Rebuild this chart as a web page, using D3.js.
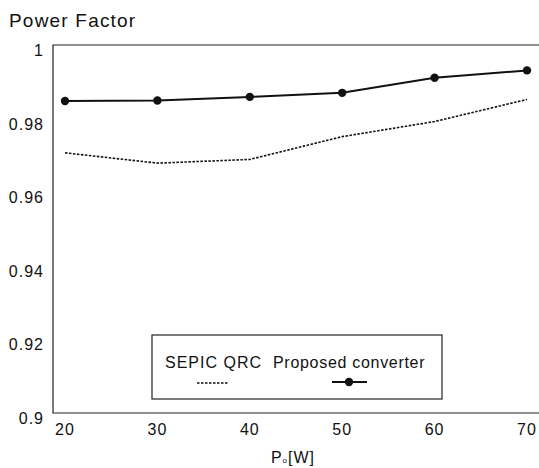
<!DOCTYPE html>
<html>
<head>
<meta charset="utf-8">
<script src="https://cdn.jsdelivr.net/npm/d3@7"></script>
<style>
  body { margin: 0; background: #fff; }
  text { font-family: "Liberation Sans", Arial, sans-serif; fill: #111; }
</style>
</head>
<body>
<div id="chart"></div>
<script>
// Data
const powerLevels = [20, 30, 40, 50, 60, 70];
const sepicQrc = [0.9707, 0.9679, 0.9689, 0.9751, 0.9792, 0.9852];
const proposed = [0.9848, 0.9849, 0.9859, 0.9870, 0.9911, 0.9931];
const yTicks = [0.9, 0.92, 0.94, 0.96, 0.98, 1];
const xTicks = [20, 30, 40, 50, 60, 70];

const width = 539, height = 468;
const margin = { top: 45, right: 0, bottom: 55, left: 53 };

const svg = d3.select("#chart").append("svg")
    .attr("width", width)
    .attr("height", height);

const x = d3.scaleLinear()
    .domain([20, 70])
    .range([65, 527]);

const y = d3.scaleLinear()
    .domain([0.9, 1])
    .range([height - margin.bottom, margin.top]);

// title
svg.append("text")
    .attr("x", 9)
    .attr("y", 27)
    .style("font-size", "19px")
    .style("letter-spacing", "1.2px")
    .text("Power Factor");

// frame: left, top and bottom lines (no right edge)
svg.append("path")
    .attr("d", `M${width},${margin.top}H${margin.left}V${height - margin.bottom}H${width}`)
    .attr("fill", "none")
    .attr("stroke", "#222")
    .attr("stroke-width", 1.2);

// y tick labels
svg.append("g")
    .selectAll("text")
    .data(yTicks)
    .enter().append("text")
    .attr("x", 44)
    .attr("y", d => y(d) + 11)
    .attr("text-anchor", "end")
    .style("font-size", "16px")
    .style("letter-spacing", "1px")
    .text(d => d3.format("~g")(d));

// x tick labels
svg.append("g")
    .selectAll("text")
    .data(xTicks)
    .enter().append("text")
    .attr("x", d => x(d))
    .attr("y", height - margin.bottom + 22)
    .attr("text-anchor", "middle")
    .style("font-size", "16px")
    .style("letter-spacing", "1px")
    .text(d => d);

// x axis title Po[W]
const xTitle = svg.append("text")
    .attr("x", 293)
    .attr("y", 463)
    .attr("text-anchor", "middle")
    .style("font-size", "16px")
    .style("letter-spacing", "1px");
xTitle.append("tspan").text("P");
xTitle.append("tspan").style("font-size", "8px").text("o");
xTitle.append("tspan").text("[W]");

const line = d3.line()
    .x((d, i) => x(powerLevels[i]))
    .y(d => y(d));

// SEPIC QRC dotted line
svg.append("path")
    .datum(sepicQrc)
    .attr("d", line)
    .attr("fill", "none")
    .attr("stroke", "#111")
    .attr("stroke-width", 1.6)
    .attr("stroke-dasharray", "2.5,1.5");

// Proposed converter
svg.append("path")
    .datum(proposed)
    .attr("d", line)
    .attr("fill", "none")
    .attr("stroke", "#111")
    .attr("stroke-width", 2);

svg.selectAll("circle.prop")
    .data(proposed)
    .enter().append("circle")
    .attr("class", "prop")
    .attr("cx", (d, i) => x(powerLevels[i]))
    .attr("cy", d => y(d))
    .attr("r", 4.2)
    .attr("fill", "#111");

// legend
const legend = svg.append("g");
legend.append("rect")
    .attr("x", 152)
    .attr("y", 335)
    .attr("width", 290)
    .attr("height", 64)
    .attr("fill", "#fff")
    .attr("stroke", "#222")
    .attr("stroke-width", 1.2);

legend.append("text")
    .attr("x", 165)
    .attr("y", 368)
    .style("font-size", "16px")
    .style("letter-spacing", "1px")
    .text("SEPIC QRC");

legend.append("text")
    .attr("x", 273)
    .attr("y", 368)
    .style("font-size", "16px")
    .style("letter-spacing", "0.7px")
    .text("Proposed converter");

legend.append("line")
    .attr("x1", 197).attr("x2", 228)
    .attr("y1", 383).attr("y2", 383)
    .attr("stroke", "#111")
    .attr("stroke-width", 1.6)
    .attr("stroke-dasharray", "2.5,1.5");

legend.append("line")
    .attr("x1", 332).attr("x2", 367)
    .attr("y1", 382).attr("y2", 382)
    .attr("stroke", "#111")
    .attr("stroke-width", 2);

legend.append("circle")
    .attr("cx", 349)
    .attr("cy", 382)
    .attr("r", 4.2)
    .attr("fill", "#111");
</script>
</body>
</html>
